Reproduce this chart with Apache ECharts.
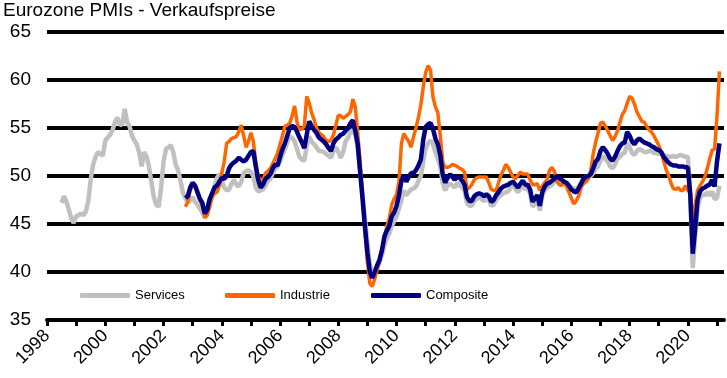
<!DOCTYPE html>
<html>
<head>
<meta charset="utf-8">
<title>Eurozone PMIs - Verkaufspreise</title>
<script src="https://cdn.jsdelivr.net/npm/echarts@6/dist/echarts.min.js"></script>
<style>
  html, body { margin: 0; padding: 0; background: #fff; }
  #chart { width: 727px; height: 378px; }
</style>
</head>
<body>
<div id="chart"></div>
<script>
// monthly values
const servicesStart = [1998, 7];   // Jul 1998
const servicesData = [
  47.2, 47.9, 47.3, 46.5, 45.6, 45.1,
  45.8, 45.9, 46.1, 45.9, 46.3, 47.4, 49.6, 51.2, 52.0, 52.5, 52.3, 52.1,
  53.7, 54.0, 54.3, 54.8, 55.6, 56.1, 55.3, 55.4, 57.0, 55.6, 55.2, 54.2,
  53.7, 53.3, 52.4, 51.0, 52.5, 52.0, 51.0, 49.4, 47.8, 47.0, 46.8, 48.8,
  51.5, 52.8, 53.0, 53.2, 52.5, 51.2, 50.6, 49.5, 48.2, 47.7, 47.2, 47.5,
  47.8, 47.3, 47.0, 46.6, 46.2, 45.6, 46.2, 47.0, 47.9, 49.0, 49.8, 50.2,
  49.5, 48.8, 48.5, 48.6, 49.2, 49.6, 49.1, 48.9, 49.4, 50.3, 50.5, 50.6,
  50.4, 50.0, 48.8, 48.4, 48.5, 48.6, 49.0, 49.5, 49.7, 50.3, 50.8, 51.0,
  51.5, 52.2, 52.8, 53.5, 54.1, 54.0, 53.6, 52.8, 52.0, 51.7, 51.6, 53.2,
  54.1, 53.6, 53.3, 53.0, 52.6, 52.6, 52.5, 52.3, 52.1, 51.9, 52.6, 53.0,
  52.5, 51.9, 52.5, 53.6, 54.0, 54.6, 54.8, 54.3, 53.0, 50.5, 48.0, 45.5,
  43.0, 40.8, 39.8, 40.0, 40.5, 41.0, 41.8, 42.8, 43.5, 44.0, 44.8, 45.3,
  45.8, 46.6, 47.5, 48.5, 48.0, 48.3, 48.6, 48.7, 48.9, 49.5, 50.0, 51.5,
  52.9, 53.4, 53.7, 53.3, 52.5, 51.8, 51.0, 49.3, 48.5, 49.0, 49.2, 49.0,
  48.8, 49.3, 49.0, 48.8, 48.5, 47.2, 46.9, 46.9, 47.4, 47.6, 47.8, 47.6,
  47.4, 47.6, 47.5, 46.9, 47.0, 47.5, 47.8, 48.0, 48.2, 48.3, 48.4, 48.8,
  49.0, 48.7, 48.3, 48.7, 49.1, 48.6, 48.7, 48.2, 46.8, 47.1, 47.5, 46.4,
  47.9, 48.5, 48.8, 48.9, 49.1, 49.4, 49.8, 49.6, 49.4, 49.1, 49.1, 49.0,
  48.8, 48.7, 48.6, 48.9, 49.3, 49.7, 49.9, 50.0, 50.0, 50.3, 50.8, 51.0,
  51.6, 52.1, 51.8, 51.5, 51.0, 50.8, 51.2, 51.8, 52.0, 52.3, 52.4, 53.4,
  53.0, 52.4, 52.2, 52.6, 52.8, 52.7, 52.5, 52.5, 52.6, 52.6, 52.4, 52.4,
  52.3, 52.5, 52.2, 52.1, 52.0, 52.0, 52.1, 52.0, 52.1, 52.2, 52.1, 52.0,
  52.0, 48.0, 40.4, 43.8, 46.8, 47.7, 48.1, 48.0, 48.3, 48.0, 48.4, 47.6,
  47.7, 49.0
];

const industrieStart = [2002, 10];  // Oct 2002
const industrieData = [
  46.8, 47.3, 48.5,
  49.0, 48.9, 48.2, 47.5, 46.9, 45.7, 45.9, 46.8, 47.8, 48.2, 48.3, 49.0,
  50.3, 51.5, 53.4, 53.6, 53.9, 54.0, 54.1, 54.6, 55.3, 54.2, 53.0, 53.6,
  54.5, 53.6, 51.5, 50.0, 49.4, 49.6, 50.3, 50.5, 50.8, 51.3, 51.8, 52.4,
  53.3, 54.2, 55.2, 55.3, 55.5, 56.3, 57.3, 55.6, 54.8, 54.9, 55.2, 58.3,
  57.6, 56.6, 55.9, 55.0, 54.5, 54.3, 54.1, 53.7, 53.6, 53.7, 54.3, 55.3,
  56.3, 56.3, 56.0, 56.2, 56.4, 56.7, 58.0, 57.2, 54.5, 51.5, 47.8, 44.2,
  41.0, 38.8, 38.5, 39.3, 40.2, 41.2, 42.3, 43.6, 44.8, 45.6, 47.0, 47.6,
  48.1, 49.4, 53.4, 54.4, 54.0, 53.6, 53.0, 54.1, 55.0, 56.1, 57.4, 59.3,
  60.8, 61.5, 61.0, 58.2, 57.2, 56.6, 54.2, 51.5, 50.9, 50.9, 51.0, 51.2,
  51.1, 51.0, 50.8, 50.7, 50.4, 48.6, 48.8, 49.1, 49.6, 49.8, 49.9, 49.9,
  49.9, 49.9, 49.3, 48.6, 48.5, 48.5, 49.3, 50.1, 50.6, 51.2, 50.9, 50.4,
  49.9, 49.7, 50.1, 50.4, 50.2, 50.2, 50.2, 49.6, 49.1, 49.1, 49.2, 48.5,
  48.9, 49.3, 49.6, 50.6, 50.9, 50.5, 49.5, 49.1, 49.0, 49.6, 48.9, 48.3,
  47.7, 47.1, 47.4, 47.9, 48.8, 49.2, 49.4, 49.7, 50.6, 52.3, 53.5, 54.5,
  55.5, 55.6, 55.2, 54.7, 54.2, 53.7, 54.1, 54.7, 55.6, 56.4, 56.8, 57.6,
  58.3, 58.1, 57.5, 56.7, 56.2, 55.7, 55.6, 55.2, 54.8, 54.6, 54.2, 53.7,
  53.2, 52.5, 51.6, 50.7, 50.1, 49.3, 48.7, 48.6, 48.8, 48.5, 48.5, 49.0,
  48.5, 48.3, 45.6, 47.0, 48.5, 49.0, 49.4, 49.9, 50.8, 51.8, 52.7, 52.8,
  56.2, 60.9
];

const compositeStart = [2002, 10];  // Oct 2002
const compositeData = [
  47.7, 47.9, 48.8,
  49.3, 49.0, 48.3, 47.6, 47.2, 46.1, 46.5, 47.6, 48.2, 48.8, 49.0, 49.4,
  49.8, 49.7, 50.0, 50.8, 51.2, 51.4, 51.6, 51.9, 51.7, 51.5, 51.7, 52.1,
  52.5, 52.6, 51.0, 49.6, 48.8, 49.1, 49.7, 49.9, 50.2, 50.8, 51.2, 51.1,
  52.0, 52.8, 53.4, 54.2, 55.0, 55.2, 55.1, 54.6, 54.0, 53.5, 52.9, 54.3,
  55.7, 55.2, 54.8, 54.5, 54.0, 53.8, 53.6, 53.3, 52.9, 52.6, 53.4, 53.8,
  54.0, 54.3, 54.4, 54.7, 55.0, 55.5, 55.8, 54.7, 53.3, 50.4, 47.6, 44.6,
  42.0, 40.0, 39.4, 40.0, 40.7, 41.3, 42.3, 43.7, 44.3, 44.8, 45.8, 46.2,
  46.9, 48.0, 49.5, 50.1, 49.4, 49.9, 50.3, 50.3, 50.6, 51.1, 51.7, 53.8,
  55.1, 55.4, 55.5, 54.9, 53.9, 53.3, 52.2, 50.2, 49.3, 49.8, 50.2, 49.9,
  49.6, 50.0, 49.8, 49.5, 49.1, 47.8, 47.4, 47.4, 47.9, 48.1, 48.2, 48.1,
  47.9, 48.1, 47.9, 47.3, 47.5, 48.0, 48.3, 48.7, 48.9, 49.0, 49.1, 49.3,
  49.4, 49.1, 48.8, 49.2, 49.5, 49.1, 49.1, 48.6, 47.3, 47.7, 48.0, 46.9,
  48.3, 48.9, 49.2, 49.3, 49.5, 49.7, 50.0, 49.8, 49.6, 49.4, 49.3, 49.0,
  48.6, 48.4, 48.3, 48.7, 49.2, 49.7, 49.9, 50.0, 50.2, 50.8, 51.5, 51.8,
  52.6, 53.0, 52.7, 52.3, 51.8, 51.6, 52.0, 52.6, 53.1, 53.4, 53.5, 54.6,
  54.2, 53.6, 53.3, 53.7, 53.9, 53.7, 53.5, 53.4, 53.3, 53.1, 53.0, 52.8,
  52.7, 52.5, 52.0, 51.7, 51.4, 51.2, 51.1, 51.1, 51.0, 51.0, 51.0, 50.9,
  50.9, 48.0, 41.9, 44.5, 47.5, 48.4, 48.7, 48.8, 49.0, 49.1, 49.6, 48.9,
  51.5, 53.4
];

const tickYears = [];
for (let y = 1998; y <= 2021; y++) tickYears.push(y);
const labelYears = tickYears.filter(y => y % 2 === 0);

// [year, month] start + monthly values -> [decimal year, value]
function toPoints(start, values) {
  const t0 = start[0] + (start[1] - 1) / 12;
  return values.map((v, i) => [t0 + i / 12, v]);
}

const chart = echarts.init(document.getElementById("chart"));
const font = "Arial, 'Liberation Sans', sans-serif";

// one legend per series so each sits where the original puts it
function legendAt(name, left) {
  return {
    left: left,
    top: 284,
    selectedMode: false,
    icon: "roundRect",
    itemWidth: 50,
    itemHeight: 5,
    textStyle: { fontSize: 13, color: "#000", fontFamily: font },
    data: [name],
  };
}

chart.setOption({
  animation: false,
  title: {
    text: "Eurozone PMIs - Verkaufspreise",
    left: 3,
    top: 1,
    padding: 0,
    textStyle: { fontSize: 19, fontWeight: "normal", color: "#000", fontFamily: font },
  },
  legend: [
    legendAt("Services", 75),
    legendAt("Industrie", 220),
    legendAt("Composite", 366),
  ],
  grid: {
    left: 47,
    right: 3,
    top: 32,
    bottom: 58,
    containLabel: false,
    outerBoundsMode: "none",
  },
  xAxis: {
    type: "value",
    min: 1998,
    max: 2021.24,
    interval: 1,
    splitLine: { show: false },
    axisLine: { lineStyle: { color: "#000", width: 4 } },
    axisTick: {
      show: true,
      customValues: tickYears,
      length: 6,
      lineStyle: { color: "#000", width: 3 },
    },
    axisLabel: {
      customValues: labelYears,
      formatter: v => String(v),
      rotate: 45,
      margin: 13,
      fontSize: 18,
      color: "#000",
      fontFamily: font,
    },
  },
  yAxis: {
    type: "value",
    min: 35,
    max: 65,
    interval: 5,
    axisLine: { show: false },
    axisTick: { show: false },
    axisLabel: { fontSize: 19, color: "#000", fontFamily: font, margin: 16 },
    splitLine: { lineStyle: { color: "#000", width: 4 } },
  },
  series: [
    {
      name: "Services",
      type: "line",
      showSymbol: false,
      color: "#c0c0c0",
      lineStyle: { width: 4.5 },
      data: toPoints(servicesStart, servicesData),
    },
    {
      name: "Industrie",
      type: "line",
      showSymbol: false,
      color: "#ff6600",
      lineStyle: { width: 3.5 },
      data: toPoints(industrieStart, industrieData),
    },
    {
      name: "Composite",
      type: "line",
      showSymbol: false,
      color: "#000080",
      lineStyle: { width: 4.5 },
      data: toPoints(compositeStart, compositeData),
    },
  ],
});
</script>
</body>
</html>
